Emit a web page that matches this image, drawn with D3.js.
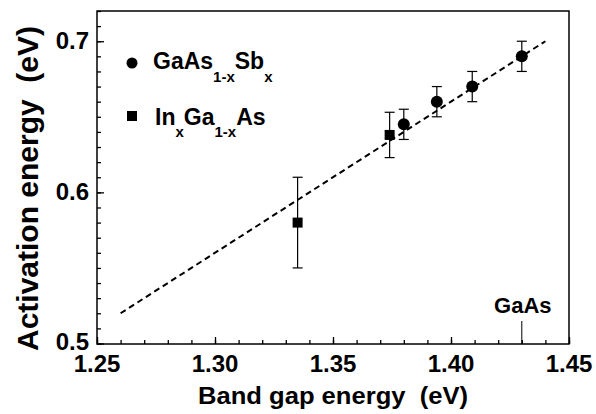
<!DOCTYPE html>
<html>
<head>
<meta charset="utf-8">
<script src="https://cdn.jsdelivr.net/npm/d3@7"></script>
<style>
  body { margin: 0; background: #fff; }
  svg text { font-family: "Liberation Sans", Arial, Helvetica, sans-serif; font-weight: bold; fill: #000; }
</style>
</head>
<body>
<svg width="596" height="414"></svg>
<script>
// GaAs(1-x)Sb(x) points
const sbGap = [1.380, 1.394, 1.409, 1.430];
const sbEa  = [0.645, 0.660, 0.670, 0.690];
const sbErr = [0.010, 0.010, 0.010, 0.010];

// In(x)Ga(1-x)As points
const inGap = [1.335, 1.374];
const inEa  = [0.580, 0.638];
const inErr = [0.030, 0.015];

// dashed fit line
const fitGap = [1.26, 1.44];
const fitEa  = [0.52, 0.70];

const xTicks = [1.25, 1.30, 1.35, 1.40, 1.45];
const yTicks = [0.5, 0.6, 0.7];
const gaAsGap = 1.43;

const margin = { top: 11, right: 27, bottom: 70, left: 97 },
  width = 596 - margin.left - margin.right,
  height = 414 - margin.top - margin.bottom;

const x = d3.scaleLinear().domain([1.25, 1.45]).range([0, width]);
const y = d3.scaleLinear().domain([0.5, 0.72]).range([height - 0.5, 0]);

const svg = d3.select('svg')
  .append('g')
  .attr('transform', `translate(${margin.left}, ${margin.top})`);

// frame
svg.append('rect')
  .attr('width', width).attr('height', height)
  .attr('fill', 'none').attr('stroke', '#000').attr('stroke-width', 1.5);

// minor ticks, pointing inward
const xMinor = d3.range(1.25, 1.4501, 0.01);
const yMinor = d3.range(0.5, 0.7201, 0.01);

svg.append('g')
  .attr('transform', `translate(0, ${height})`)
  .call(d3.axisTop(x).tickValues(xMinor).tickSize(4).tickFormat(''))
  .call(g => g.select('.domain').remove());

svg.append('g')
  .call(d3.axisRight(y).tickValues(yMinor).tickSize(4).tickFormat(''))
  .call(g => g.select('.domain').remove());

// major ticks
svg.append('g')
  .attr('class', 'x-axis')
  .attr('transform', `translate(0, ${height})`)
  .call(d3.axisTop(x).tickValues(xTicks).tickSize(7).tickFormat(''))
  .call(g => g.select('.domain').remove());

svg.append('g')
  .call(d3.axisRight(y).tickValues(yTicks).tickSize(7).tickFormat(''))
  .call(g => g.select('.domain').remove());

svg.selectAll('.tick line').attr('stroke-width', 1.3);

// tick labels
svg.selectAll('.xlab')
  .data(xTicks)
  .enter()
  .append('text')
  .attr('x', d => x(d))
  .attr('y', height + 28)
  .attr('text-anchor', 'middle')
  .attr('font-size', 24)
  .text(d => d.toFixed(2));

svg.selectAll('.ylab')
  .data(yTicks)
  .enter()
  .append('text')
  .attr('x', -8)
  .attr('y', d => y(d) + (d === 0.5 ? 6 : 8))
  .attr('text-anchor', 'end')
  .attr('font-size', 24)
  .text(d => d.toFixed(1));

// axis titles
svg.append('text')
  .attr('x', 101)
  .attr('y', height + 60)
  .attr('font-size', 23)
  .attr('xml:space', 'preserve')
  .attr('textLength', 270)
  .attr('lengthAdjust', 'spacingAndGlyphs')
  .text('Band gap energy  (eV)');

svg.append('text')
  .attr('transform', `translate(${-59}, ${340}) rotate(-90)`)
  .attr('font-size', 29)
  .attr('xml:space', 'preserve')
  .attr('textLength', 325)
  .attr('lengthAdjust', 'spacingAndGlyphs')
  .text('Activation energy  (eV)');

// fit line
svg.append('line')
  .attr('x1', x(fitGap[0])).attr('y1', y(fitEa[0]))
  .attr('x2', x(fitGap[1])).attr('y2', y(fitEa[1]))
  .attr('stroke', '#000').attr('stroke-width', 2)
  .attr('stroke-dasharray', '6,4');

// GaAs marker
svg.append('line')
  .attr('x1', x(gaAsGap)).attr('x2', x(gaAsGap))
  .attr('y1', height).attr('y2', height - 23)
  .attr('stroke', '#000').attr('stroke-width', 1);
svg.append('text')
  .attr('x', x(gaAsGap) + 1)
  .attr('y', height - 31)
  .attr('text-anchor', 'middle')
  .attr('font-size', 22)
  .text('GaAs');

// error bars
function errorBars(gap, ea, err) {
  const g = svg.append('g').attr('stroke', '#000').attr('stroke-width', 1.2);
  gap.forEach((xv, i) => {
    const cx = x(xv), top = y(ea[i] + err[i]), bot = y(ea[i] - err[i]);
    g.append('line').attr('x1', cx).attr('x2', cx).attr('y1', top).attr('y2', bot);
    g.append('line').attr('x1', cx - 5).attr('x2', cx + 5).attr('y1', top).attr('y2', top);
    g.append('line').attr('x1', cx - 5).attr('x2', cx + 5).attr('y1', bot).attr('y2', bot);
  });
}
errorBars(sbGap, sbEa, sbErr);
errorBars(inGap, inEa, inErr);

svg.selectAll('.dot')
  .data(sbGap.map((g, i) => [g, sbEa[i]]))
  .enter()
  .append('circle')
  .attr('cx', d => x(d[0]))
  .attr('cy', d => y(d[1]))
  .attr('r', 6)
  .attr('fill', '#000');

svg.selectAll('.sq')
  .data(inGap.map((g, i) => [g, inEa[i]]))
  .enter()
  .append('rect')
  .attr('x', d => x(d[0]) - 5)
  .attr('y', d => y(d[1]) - 5)
  .attr('width', 10)
  .attr('height', 10)
  .attr('fill', '#000');

// legend
const leg = svg.append('g').attr('transform', 'translate(35, 52)');
leg.append('circle').attr('cx', 0).attr('cy', 0).attr('r', 5.5).attr('fill', '#000');
const t1 = leg.append('text').attr('x', 21).attr('y', 6).attr('font-size', 23);
t1.append('tspan').text('GaAs');
t1.append('tspan').attr('font-size', 15).attr('dy', 13).text('1-x');
t1.append('tspan').attr('dy', -13).text('Sb');
t1.append('tspan').attr('font-size', 15).attr('dy', 13).text('x');

leg.append('rect').attr('x', -5).attr('y', 48).attr('width', 10).attr('height', 10).attr('fill', '#000');
const t2 = leg.append('text').attr('x', 23).attr('y', 62).attr('font-size', 23);
t2.append('tspan').text('In');
t2.append('tspan').attr('font-size', 15).attr('dy', 12).text('x');
t2.append('tspan').attr('dy', -12).text('Ga');
t2.append('tspan').attr('font-size', 15).attr('dy', 12).text('1-x');
t2.append('tspan').attr('dy', -12).text('As');
</script>
</body>
</html>
